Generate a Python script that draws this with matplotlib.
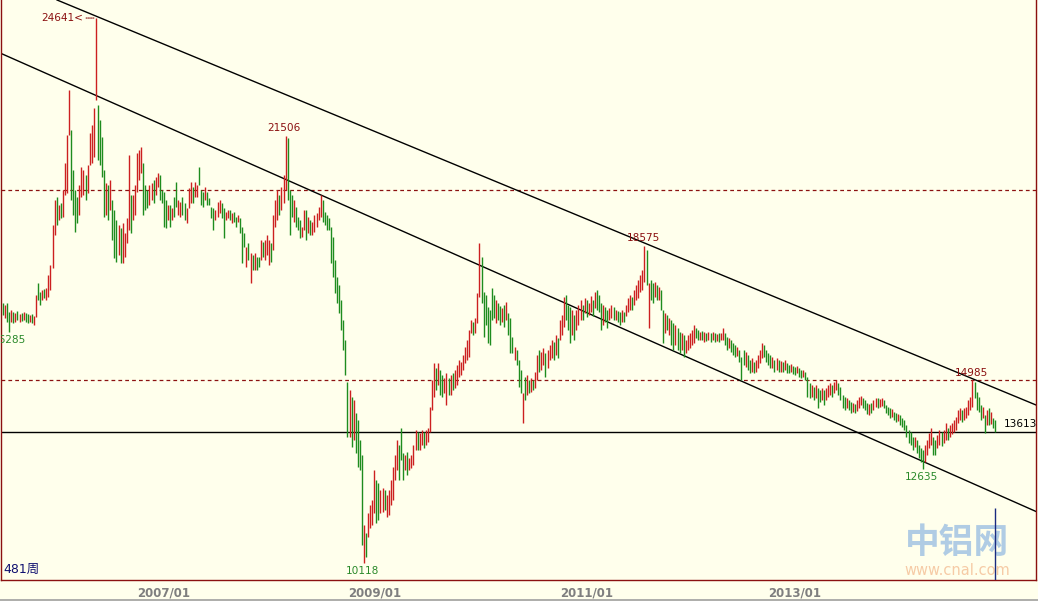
import matplotlib
matplotlib.use('Agg')
import matplotlib.pyplot as plt
from matplotlib.lines import Line2D

# weekly aluminium bars, 2005/07 - 2014/11
highs = [
    17050, 16990, 17050, 16810, 16860, 16810, 16780, 16830, 16750, 16780,
    16810, 16780, 16750, 16730, 16750, 16700, 17260, 17580, 17340, 17390,
    17420, 17450, 17790, 18060, 19130, 19790, 19870, 19660, 19710, 20060,
    20780, 21520, 22720, 21660, 20590, 20060, 19870, 20190, 20670, 20590,
    20460, 20720, 21580, 21790, 22240, 24641, 22320, 21920, 21470, 20590,
    20250, 20190, 20330, 19790, 19530, 19260, 19130, 19050, 19180, 18910,
    19310, 20990, 19930, 19930, 20190, 21050, 21120, 21200, 20780, 20190,
    20060, 20190, 20250, 20330, 20400, 20510, 20460, 20060, 20010, 19790,
    19660, 19660, 19580, 19870, 20270, 19790, 19740, 19870, 19710, 19580,
    20110, 20270, 20140, 20270, 20190, 20670, 20060, 20010, 20140, 20010,
    19840, 19610, 19580, 19530, 19740, 19790, 19710, 19580, 19470, 19530,
    19530, 19450, 19470, 19340, 19390, 19310, 19070, 18910, 18540, 18650,
    18380, 18330, 18380, 18270, 18270, 18730, 18670, 18730, 18860, 18730,
    18650, 19390, 19790, 20060, 19930, 20140, 20460, 21506, 21440, 20060,
    19930, 19790, 19610, 19340, 19260, 19070, 19530, 19530, 19340, 19260,
    19210, 19390, 19450, 19610, 19930, 19790, 19470, 19390, 19310, 19070,
    18810, 18190, 17740, 17530, 17130, 16590, 16060, 14940, 14730, 14540,
    14460, 14120, 13930, 13400, 13000, 11130, 10920, 11450, 11660, 11800,
    12600, 12330, 12250, 12060, 12120, 12060, 11930, 12060, 12330, 12680,
    13000, 13400, 13260, 13720, 13050, 13000, 13080, 12920, 13000, 13260,
    13660, 13610, 13580, 13660, 13610, 13660, 13720, 14280, 15000, 15450,
    15320, 15450, 15260, 15130, 15050, 15180, 15050, 15130, 15180, 15260,
    15400, 15530, 15480, 15660, 15870, 16060, 16330, 16590, 16540, 16650,
    17310, 18640, 18270, 17340, 17260, 16940, 16860, 17450, 17260, 17130,
    17050, 16970, 16910, 16990, 17070, 16780, 16650, 16140, 15870, 15800,
    15530, 15260, 14650, 15080, 15130, 15000, 15050, 15000, 15210, 15660,
    15800, 15740, 15850, 15720, 15800, 15930, 16060, 16010, 16190, 16110,
    16590, 16730, 17210, 17260, 16990, 16940, 16860, 16730, 16860, 16990,
    17130, 16990, 17180, 17130, 17050, 17230, 17130, 17340, 17390, 17260,
    17050, 16990, 16940, 16860, 16910, 16990, 16940, 16860, 16830, 16810,
    16860, 16810, 16990, 17180, 17260, 17210, 17390, 17530, 17660, 17790,
    17930, 18575, 18460, 17580, 17660, 17580, 17610, 17530, 17470, 17390,
    16860, 16780, 16730, 16650, 16590, 16510, 16460, 16380, 16270, 16250,
    16190, 16060, 16190, 16250, 16330, 16460, 16380, 16330, 16270, 16300,
    16270, 16250, 16270, 16250, 16270, 16250, 16220, 16250, 16250, 16380,
    16250, 16140, 16110, 16060, 15980, 15930, 15870, 15800, 15610, 15800,
    15740, 15660, 15530, 15580, 15480, 15530, 15660, 15800, 15980, 15930,
    15800, 15720, 15660, 15610, 15530, 15580, 15530, 15500, 15480, 15530,
    15450, 15400, 15420, 15370, 15340, 15370, 15320, 15260, 15260, 15210,
    15080, 14920, 14860, 14810, 14860, 14780, 14730, 14780, 14730, 14780,
    14860, 14920, 14860, 14940, 15000, 14920, 14810, 14600, 14540, 14510,
    14460, 14410, 14380, 14360, 14460, 14540, 14570, 14510, 14460, 14380,
    14360, 14380, 14460, 14510, 14510, 14490, 14510, 14460, 14330, 14280,
    14250, 14220, 14140, 14120, 14090, 14060, 13980, 13930, 13800, 13660,
    13610, 13480, 13480, 13400, 13260, 13180, 13130, 13260, 13400, 13580,
    13720, 13480, 13400, 13530, 13660, 13610, 13660, 13850, 13720, 13800,
    13850, 13930, 14010, 14200, 14250, 14200, 14250, 14280, 14460, 14540,
    14985, 14940, 14680, 14540, 14330, 14280, 14060, 14200, 14250, 14140,
    13980, 13930,
]

lows = [
    16730, 16650, 16540, 16285, 16540, 16510, 16540, 16590, 16540, 16570,
    16590, 16540, 16510, 16540, 16510, 16460, 16670, 17130, 16990, 17130,
    17180, 17130, 17210, 17390, 17980, 18860, 19130, 19260, 19310, 19340,
    19930, 19980, 21520, 19790, 19390, 18940, 19180, 19390, 19870, 19930,
    19790, 19980, 20720, 20780, 20940, 22460, 20860, 20720, 20400, 19340,
    19390, 19260, 19530, 18730, 18250, 18140, 18330, 18110, 18110, 18270,
    18650, 18990, 18910, 19260, 19390, 20010, 20330, 20510, 19390, 19530,
    19580, 19660, 19790, 19710, 19930, 20140, 19790, 19710, 19070, 19050,
    19260, 19070, 19260, 19340, 19610, 19390, 19340, 19390, 19260, 19180,
    19580, 19710, 19710, 19870, 19870, 20190, 19660, 19610, 19790, 19660,
    19660, 19310, 18990, 19260, 19340, 19450, 19310, 18780, 19260, 19310,
    19260, 19180, 19210, 19070, 19210, 18910, 18110, 18540, 18010, 18190,
    17580, 17930, 17930, 17930, 18010, 18190, 18270, 18190, 18330, 18060,
    18140, 18460, 19070, 19260, 19390, 19530, 19710, 20060, 19790, 18860,
    19340, 19210, 19070, 18990, 18780, 18810, 18990, 18730, 18910, 18860,
    18860, 18940, 19070, 19260, 19340, 19210, 19130, 18990, 18990, 18110,
    17740, 17310, 17050, 16780, 16330, 15800, 15130, 13480, 13480, 13210,
    13400, 13050, 12680, 12600, 10600, 10118, 10280, 10810, 11050, 11130,
    11450, 11180, 11260, 11450, 11480, 11530, 11340, 11400, 11660, 11800,
    12330, 12600, 12330, 12860, 12330, 12600, 12460, 12600, 12650, 12730,
    13130, 13130, 13130, 13260, 13180, 13260, 13340, 13610, 14200, 14540,
    14730, 14860, 14600, 14540, 14650, 14330, 14600, 14600, 14730, 14780,
    14860, 15080, 15130, 15260, 15450, 15530, 15610, 16250, 16190, 16250,
    16510, 17210, 17050, 16140, 16460, 15980, 15930, 16590, 16650, 16510,
    16590, 16460, 16540, 16410, 16590, 16190, 15720, 15720, 15530, 15400,
    14810, 14650, 13850, 14460, 14600, 14650, 14680, 14730, 14780, 15000,
    15210, 15260, 15400, 15080, 15320, 15530, 15580, 15530, 15660, 15580,
    16060, 16190, 16410, 16590, 16330, 15980, 16190, 16060, 16330, 16460,
    16590, 16590, 16780, 16670, 16730, 16810, 16700, 16910, 16860, 16810,
    16330, 16460, 16540, 16380, 16590, 16650, 16590, 16590, 16540, 16460,
    16540, 16540, 16700, 16810, 16860, 16860, 16990, 17130, 17180, 17340,
    17390, 17610, 17530, 16380, 17130, 17050, 17210, 17130, 17130, 16860,
    15980, 16250, 16330, 16190, 15930, 15800, 15930, 15800, 15720, 15800,
    15610, 15720, 15800, 15850, 15930, 15980, 16110, 16060, 16060, 16060,
    16010, 16030, 16060, 16010, 16060, 16010, 16030, 16010, 16060, 16060,
    15930, 15800, 15850, 15740, 15660, 15610, 15630, 15480, 15000, 15400,
    15340, 15260, 15180, 15210, 15180, 15210, 15320, 15450, 15580, 15610,
    15480, 15400, 15320, 15320, 15210, 15260, 15210, 15210, 15210, 15260,
    15180, 15180, 15210, 15160, 15130, 15180, 15080, 15050, 15080, 15000,
    14540, 14510, 14540, 14460, 14510, 14250, 14410, 14460, 14330, 14460,
    14540, 14600, 14540, 14650, 14730, 14600, 14460, 14250, 14200, 14250,
    14200, 14120, 14140, 14120, 14170, 14250, 14330, 14250, 14200, 14090,
    14060, 14120, 14200, 14280, 14250, 14280, 14300, 14250, 14120, 14060,
    13980, 14010, 13930, 13880, 13900, 13800, 13740, 13660, 13480, 13320,
    13260, 13130, 13210, 13050, 12920, 12810, 12635, 12810, 13000, 13180,
    13260, 13000, 13000, 13180, 13260, 13240, 13320, 13400, 13400, 13480,
    13560, 13610, 13660, 13850, 13930, 13880, 13930, 13980, 14060, 14200,
    14280, 14510, 14200, 14140, 13930, 13980, 13580, 13800, 13800, 13830,
    13720, 13610,
]

# R = week closed up (red), G = week closed down (green)
direction = (
    "GRGGRGRGRG" "RGGRGRRGGR" "GRRRRRGRGR" "RRRGGGGRRR" "GRRRRRGGGG"
    "RGRGGGRGRR" "RRGRRRRRGG" "GRRGRRGGGG" "RGRGGRRGGR" "RRGRRGGGRG"
    "GGGRRRGGRR" "GRGGRGGGRG" "RGRGGRGRRR" "GRRRGRRRGG" "GRGGGRRGRG"
    "RRRRRGGGGG" "GGGGGGGGRG" "RGGGGRGRRR" "RGGRRGRRRR" "RRGGGRGRRR"
    "RGRRGRRRRR" "GRGGRRGRGR" "RRRRRRRRGR" "RRGGGGGGGR" "GGRGRGGGRG"
    "GGRGRGRGRR" "GRRGRRRGRG" "RRRGGGRGRR" "RGRGRRGRGG" "GRGGRRGRGG"
    "RGRRRGRRRR" "RRGRGGRGRG" "GRGRGGRGGR" "GRRRRRGGRG" "RGRGRGRGRR"
    "GGRGGGRGGG" "RGGRGRRRRG" "GGGRGRGRGR" "GGRGGRGGRG" "GGRGRGGRGR"
    "RRGRRGGGGR" "GGRGRRRGGG" "RGRRGRRGGG" "GRGGRGGGGG" "GGRGGGGRRR"
    "RGGRRGRRGR" "RRRRRGRRRR" "RGGGGRGRGR" "GG"
)

tick_pos = [78, 180, 283, 384]
tick_labels = ['2007/01', '2009/01', '2011/01', '2013/01']

high_marks = [(45, 24641), (137, 21506), (311, 18575), (470, 14985)]
low_marks = [(3, 16285), (175, 10118), (446, 12635)]

dashed_levels = [20060, 14985]
last_price = 13613
upper_channel = [(26.2, 25122), (500.8, 14329)]
lower_channel = [(0, 23675), (500.8, 11491)]

bg = '#FFFFEC'
red = '#CC2020'
green = '#1E8C1E'
dark_red = '#8B1010'

n = min(len(highs), len(lows), len(direction))
xs = list(range(n))
cols = [red if d == 'R' else green for d in direction[:n]]

fig = plt.figure(figsize=(10.38, 6.01), dpi=100, facecolor=bg)
ax = fig.add_axes([1 / 1038, 21 / 601, 1035 / 1038, 580 / 601], facecolor=bg)
ax.set_xlim(-0.97, 500.8)
ax.set_ylim(9665, 25122)

# horizontal levels and channel
for lv in dashed_levels:
    ax.axhline(lv, color=dark_red, lw=0.9, ls=(0, (3, 2.5)), zorder=1)
ax.axhline(last_price, color='black', lw=1.0, zorder=1)
ax.axline(upper_channel[0], upper_channel[1], color='black', lw=1.0, zorder=2)
ax.axline(lower_channel[0], lower_channel[1], color='black', lw=1.0, zorder=2)

# weekly bars
ax.vlines(xs, lows[:n], highs[:n], colors=cols, linewidth=1.0, zorder=3)

# extreme labels
lab_font = dict(fontsize=7.6, family='DejaVu Sans')
ax.annotate('24641<', xy=high_marks[0], xytext=(-9, 0), textcoords='offset points',
            ha='right', va='center', color=dark_red,
            arrowprops=dict(arrowstyle='-', color=dark_red, lw=0.8,
                            linestyle=(0, (1, 1)), shrinkA=0, shrinkB=1),
            **lab_font)
for x, v in high_marks[1:]:
    ax.annotate(str(v), xy=(x, v), xytext=(-1, 2), textcoords='offset points',
                ha='center', va='bottom', color=dark_red, **lab_font)
for x, v in low_marks:
    dx = 0.5 if x < 10 else -1
    ax.annotate(str(v), xy=(x, v), xytext=(dx, -2.5), textcoords='offset points',
                ha='center', va='top', color='#2A8A2A', clip_on=True,
                annotation_clip=False, **lab_font)
ax.annotate(str(last_price), xy=(n - 1, last_price), xytext=(6.5, 6),
            textcoords='offset points', ha='left', va='center', color='black',
            **lab_font)

# bar count and cursor
ax.text(0.002, 0.018, '481周', transform=ax.transAxes, ha='left', va='center',
        color='#101070', fontsize=9, family=['DejaVu Sans', 'Noto Sans CJK SC'])
ax.vlines(n - 1, 9665, 11580, color='#1A2A80', lw=1.0, zorder=4)

# watermark
ax.text(0.924, 0.064, '中铝网', transform=ax.transAxes, ha='center', va='center',
        color='#B0CCE4', fontsize=25, fontweight='bold',
        family=['Noto Sans CJK SC'], zorder=0)
ax.text(0.924, 0.016, 'www.cnal.com', transform=ax.transAxes, ha='center',
        va='center', color='#F6CBA6', fontsize=10.5, zorder=0)

ax.set_xticks(tick_pos)
ax.set_xticklabels(tick_labels, fontsize=8.5, fontweight='bold', color='#7F7F7F')
ax.set_yticks([])
ax.tick_params(axis='x', length=0, pad=5)
for s in ['left', 'bottom', 'right']:
    ax.spines[s].set_color(dark_red)
    ax.spines[s].set_linewidth(1.0)
ax.spines['top'].set_visible(False)

fig.add_artist(Line2D([0, 1], [0.6 / 601, 0.6 / 601], color='#A0A0A0', lw=1.2))

fig.savefig('out.png', dpi=100, facecolor=bg)
